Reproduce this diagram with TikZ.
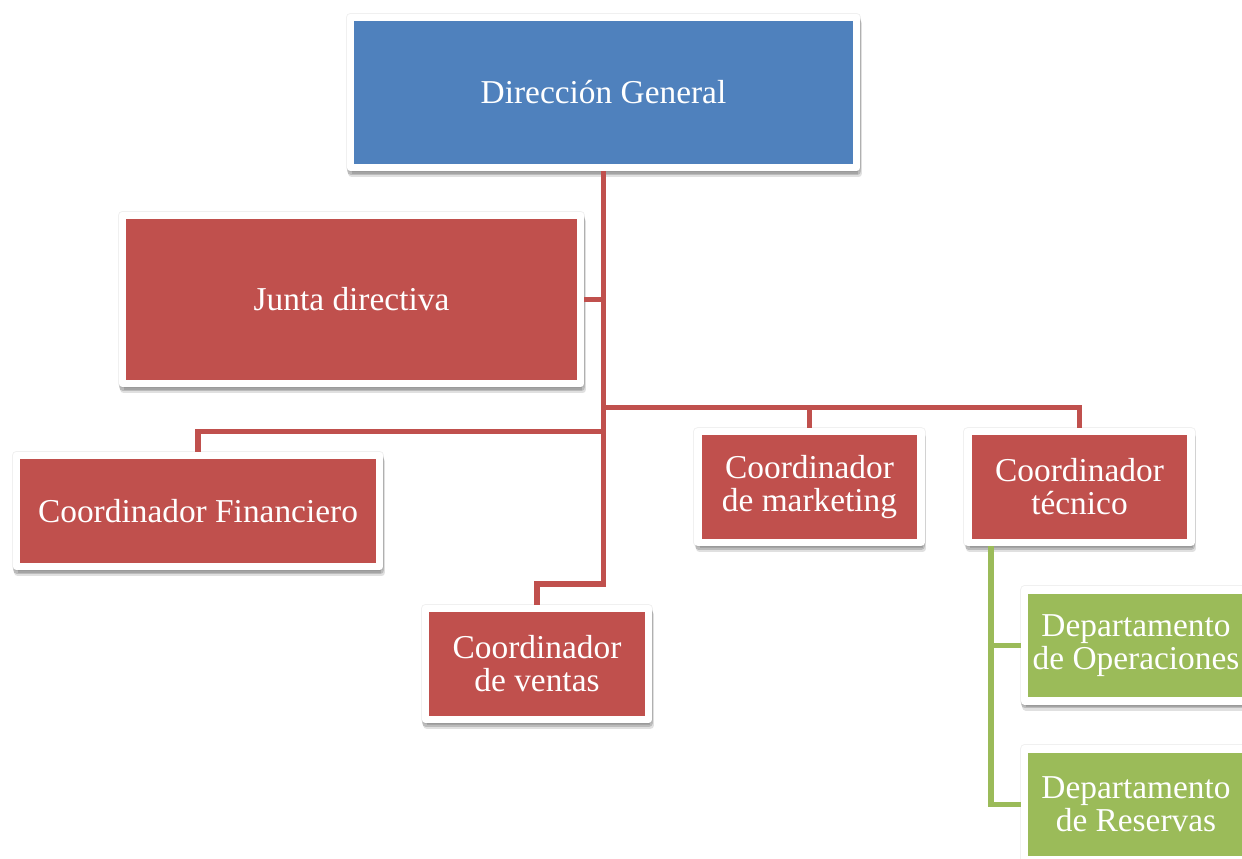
\documentclass[tikz,border=0pt]{standalone}
\usepackage{fontspec}
\setmainfont{Liberation Serif}
\usepackage{tikz}
\usetikzlibrary{positioning}

\definecolor{azul}{HTML}{4F81BD}
\definecolor{rojo}{HTML}{C0504D}
\definecolor{verde}{HTML}{9BBB59}

\tikzset{
  caja/.style={rectangle, draw=white, line width=4.25pt, line join=round,
    inner sep=0pt, text=white, align=center,
    font=\fontsize{19}{18.7}\selectfont,
    preaction={draw=black, fill=black, opacity=0.06, line width=5.2pt},
    preaction={draw=black, fill=black, opacity=0.12,
      transform canvas={xshift=0.9pt, yshift=-3.4pt}},
    preaction={draw=black, fill=black, opacity=0.16,
      transform canvas={xshift=0.4pt, yshift=-1.9pt}}},
  cajaazul/.style={caja, fill=azul},
  cajaroja/.style={caja, fill=rojo},
  cajaverde/.style={caja, fill=verde},
  chica/.style={minimum width=4.46cm, minimum height=2.22cm},
  conector/.style={line width=3.1pt, line join=miter},
}

\begin{document}
\begin{tikzpicture}[x=0.02cm, y=-0.02cm]

  %% Page frame (the two lower boxes run past the right edge).
  \clip (0,0) rectangle (1242,859);
  \fill[white] (0,0) rectangle (1242,859);

  %% Top of the tree.
  \node[cajaazul, minimum width=10.13cm, minimum height=3.01cm]
    (dg) at (603.5,92.5) {Dirección General};
  \node[cajaroja, minimum width=9.17cm, minimum height=3.37cm]
    (junta) at (351.5,299.5) {Junta directiva};

  %% Coordinators.
  \node[cajaroja, minimum width=7.27cm, minimum height=2.23cm]
    (financiero) at (198,511) {Coordinador Financiero};
  \node[cajaroja, chica] (ventas) at (537,664) {Coordinador\\de ventas};
  \node[cajaroja, chica] (marketing) at (809.5,487)
    {Coordinador\\de marketing};
  \node[cajaroja, chica] (tecnico) at (1079.5,487) {Coordinador\\técnico};

  %% Departments under the technical coordinator.
  \node[cajaverde, chica] (operaciones) at (1136,645.5)
    {Departamento\\de Operaciones};
  \node[cajaverde, chica] (reservas) at (1136,804.5)
    {Departamento\\de Reservas};

  %% Heights of the elbows and x of the green branch.
  \coordinate (barra) at (0,407.5);
  \coordinate (barrafin) at (0,431.5);
  \coordinate (giroventas) at (0,584);
  \coordinate (ramal) at (991,0);

  %% Red connectors.
  \draw[conector, rojo] (dg.south) -- (dg.south |- giroventas)
    -| (ventas.north);
  \draw[conector, rojo] (junta.east) -- (junta.east -| dg.south);
  \draw[conector, rojo] (dg.south |- barrafin) -| (financiero.north);
  \draw[conector, rojo] (dg.south |- barra) -| (tecnico.north);
  \draw[conector, rojo] (marketing.north |- barra) -- (marketing.north);

  %% Green connectors.
  \draw[conector, verde] (tecnico.south -| ramal) -- (ramal |- reservas.west)
    -- (reservas.west);
  \draw[conector, verde] (ramal |- operaciones.west) -- (operaciones.west);

\end{tikzpicture}
\end{document}
